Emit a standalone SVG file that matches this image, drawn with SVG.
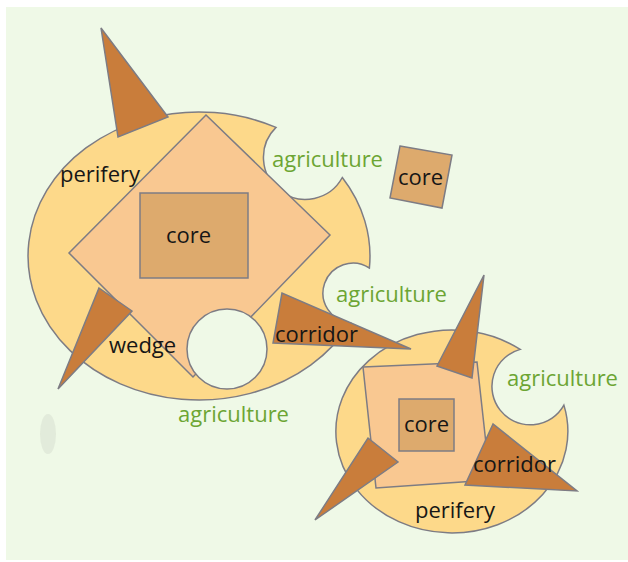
<svg xmlns="http://www.w3.org/2000/svg" width="628" height="562" viewBox="0 0 628 562">
  <style>
    .ln { stroke: #7d7c84; stroke-width: 1.5; stroke-linejoin: miter; }
    .blob { fill: #fdd98a; }
    .sq { fill: #f9c891; }
    .core { fill: #ddaa6d; }
    .tri { fill: #c97d3b; }
    .hole { fill: #eff9e7; }
    text { font-family: "Open Sans", "Noto Sans", "DejaVu Sans", sans-serif; font-size: 22px; }
    .blk { fill: #161616; }
    .grn { fill: #6ca533; }
  </style>
  <rect x="0" y="0" width="628" height="562" fill="#ffffff"/>
  <rect x="6" y="7" width="622" height="553" fill="#eff9e7"/>
  <ellipse cx="48" cy="434" rx="8" ry="20" fill="#dde6d5" opacity="0.7"/>

  <g id="small-city">
    <path class="blob ln" d="M520.2,349.4 A38.4,38.4 0 1 0 563.9,405.1 A116,101.5 0 1 1 520.2,349.4 Z"/>
    <polygon class="sq ln" points="363,367 477,362 490,480 376,488"/>
    <rect class="core ln" x="399" y="399" width="55" height="52"/>
    <polygon class="tri ln" points="484,275 437,366 472,378"/>
    <polygon class="tri ln" points="315,520 368,438 398,462"/>
    <polygon class="tri ln" points="493,424 465,485 577,491"/>
    <text class="blk" x="404" y="432">core</text>
    <text class="blk" x="473" y="472">corridor</text>
    <text class="blk" x="415" y="518">perifery</text>
    <text class="grn" x="507" y="386">agriculture</text>
  </g>

  <g id="big-city">
    <path class="blob ln" d="M276,127.4 A42,42 0 1 0 342.3,177.5 A171,144 0 0 1 369.4,268 A30,30 0 1 0 350.4,323 A171,144 0 1 1 276,127.4 Z"/>
    <polygon class="sq ln" points="206,115 330,235 193,377 69,253"/>
    <rect class="core ln" x="140" y="193" width="108" height="85"/>
    <circle class="hole ln" cx="227" cy="349" r="40"/>
    <polygon class="tri ln" points="101,28 118,137 168,117"/>
    <polygon class="tri ln" points="99,288 132,311 58,389"/>
    <polygon class="tri ln" points="282,293 273,343 411,349"/>
    <text class="blk" x="60" y="182">perifery</text>
    <text class="blk" x="166" y="243">core</text>
    <text class="blk" x="109" y="353">wedge</text>
    <text class="blk" x="275" y="342">corridor</text>
    <text class="grn" x="272" y="167">agriculture</text>
    <text class="grn" x="336" y="302">agriculture</text>
    <text class="grn" x="178" y="422">agriculture</text>
  </g>

  <g id="satellite-core">
    <polygon class="core ln" points="400,146 452,155 442,208 390,198"/>
    <text class="blk" x="398" y="185">core</text>
  </g>
</svg>
